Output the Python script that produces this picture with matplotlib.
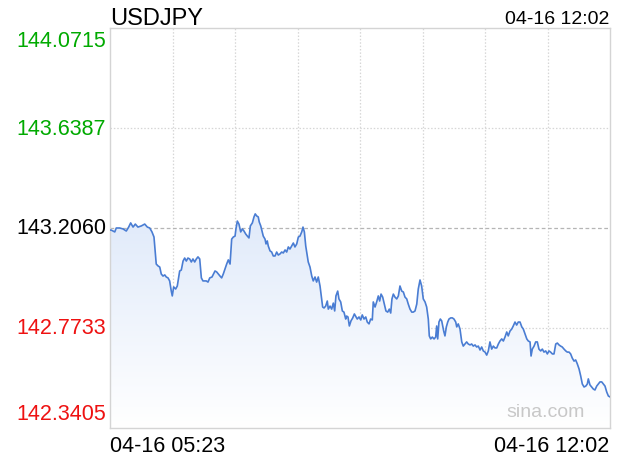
import matplotlib
matplotlib.use("Agg")
import matplotlib.pyplot as plt
import numpy as np

# chart data: minutes after 04-16 05:23 and USDJPY price
SYMBOL = "USDJPY"
START_LABEL = "04-16 05:23"
END_LABEL = "04-16 12:02"
TOTAL_MINUTES = 399
PREV_CLOSE = 143.2060
Y_TICKS = [144.0715, 143.6387, 143.2060, 142.7733, 142.3405]

minutes = [
    0.0, 1.0, 3.8, 5.0, 7.7, 10.4, 13.0, 14.9, 16.5, 18.4, 20.2, 22.3, 25.0, 27.7,
    29.8, 31.7, 33.5, 35.1, 36.1, 36.9, 38.3, 39.7, 40.9, 42.3, 43.7, 44.9, 46.3,
    47.6, 48.9, 49.7, 50.8, 52.4, 53.7, 55.6, 56.9, 58.3, 59.6, 60.9, 62.2, 63.6,
    64.9, 66.2, 67.6, 68.9, 70.2, 71.6, 72.9, 74.2, 76.8, 78.2, 79.6, 81.4,
    83.8, 85.1, 86.4, 87.8, 89.1, 90.4, 91.8, 93.1, 94.4, 95.8, 96.6, 97.1, 98.4,
    99.8, 100.5, 101.6, 102.9, 104.3, 105.6, 106.9, 108.3, 109.6, 110.9, 112.0,
    113.6, 114.9, 115.9, 117.1, 118.3, 119.1, 120.3, 121.3, 122.3, 123.7, 124.5,
    125.5, 126.3, 127.7, 129.0, 130.3, 131.7, 133.0, 134.3, 135.7, 137.0, 138.3,
    139.7, 141.0, 142.3, 143.6, 145.0, 146.3, 147.6, 149.0, 150.3, 151.6, 153.0,
    154.0, 155.1, 156.2, 157.2, 158.2, 159.6, 161.0, 162.2, 163.6, 164.9, 166.2,
    167.6, 168.9, 169.7, 170.8, 172.1, 173.4, 174.2, 175.6, 176.9, 178.2, 179.3,
    180.3, 181.7, 182.7, 184.1, 185.4, 186.7, 188.1, 188.8, 189.9, 191.0, 192.3,
    193.7, 195.0, 196.3, 197.3, 198.7, 200.1, 201.3, 202.7, 204.1, 205.3, 206.7,
    208.0, 209.3, 210.1, 211.5, 212.8, 214.1, 215.2, 216.3, 217.6, 218.9, 220.2,
    221.6, 222.9, 224.0, 225.0, 226.1, 227.4, 228.8, 230.1, 231.4, 232.8, 234.1,
    235.4, 236.8, 238.0, 239.4, 240.8, 242.0, 243.4, 244.8, 246.0, 247.4, 248.7,
    250.0, 251.4, 252.7, 254.0, 254.8, 255.9, 257.2, 258.6, 259.9, 260.7, 261.5,
    262.5, 263.6, 264.7, 265.5, 266.3, 267.3, 268.4, 269.5, 270.5, 271.9, 273.2,
    274.5, 275.9, 276.7, 277.9, 279.3, 280.7, 281.9, 283.3, 284.6, 285.9, 287.3,
    288.6, 289.9, 291.3, 292.6, 293.9, 295.3, 296.6, 297.9, 299.3, 300.6, 301.9,
    303.2, 304.6, 305.9, 307.2, 308.6, 309.9, 311.2, 312.6, 313.9, 315.2, 316.6,
    317.8, 319.2, 320.6, 321.8, 323.2, 324.5, 325.8, 327.2, 328.6, 329.8, 331.2,
    332.6, 333.8, 335.2, 336.0, 337.0, 338.4, 339.7, 341.0, 342.3, 343.7, 345.0,
    346.3, 347.7, 349.0, 350.3, 351.6, 353.0, 354.3, 355.7, 357.0, 358.3, 359.6,
    360.9, 362.3, 363.7, 364.9, 366.3, 367.6, 368.9, 370.3, 371.6, 372.9, 374.3,
    375.6, 376.9, 378.3, 379.7, 380.9, 381.7, 383.0, 384.4, 385.7, 387.0, 388.4,
    389.7, 391.0, 392.4, 393.7, 395.0, 396.4, 397.7, 399.0,
]

prices = [
    143.197, 143.197, 143.189, 143.206, 143.206, 143.202, 143.193, 143.210, 143.228,
    143.210, 143.223, 143.210, 143.215, 143.223, 143.210, 143.206, 143.189, 143.167,
    143.102, 143.050, 143.042, 143.037, 143.007, 142.998, 143.003, 142.994, 142.990,
    142.977, 142.933, 142.912, 142.951, 142.942, 142.955, 143.020, 143.024, 143.063,
    143.076, 143.063, 143.076, 143.072, 143.059, 143.072, 143.059, 143.072, 143.081,
    143.072, 142.990, 142.977, 142.977, 142.972, 142.990, 142.994,
    143.020, 143.016, 143.007, 142.998, 142.990, 143.007, 143.029, 143.050, 143.068,
    143.050, 143.115, 143.158, 143.167, 143.171, 143.202, 143.236, 143.223, 143.189,
    143.202, 143.193, 143.180, 143.171, 143.163, 143.215, 143.228, 143.254, 143.267,
    143.258, 143.254, 143.232, 143.215, 143.193, 143.171, 143.158, 143.137, 143.150,
    143.128, 143.107, 143.102, 143.085, 143.085, 143.102, 143.089, 143.094, 143.102,
    143.098, 143.111, 143.102, 143.124, 143.115, 143.128, 143.141, 143.124, 143.137,
    143.167, 143.171, 143.189, 143.210, 143.189, 143.128, 143.094, 143.059, 143.037,
    142.998, 142.977, 142.994, 142.972, 142.994, 142.955,
    142.899, 142.864, 142.860, 142.868, 142.890, 142.855, 142.868, 142.855, 142.881,
    142.847, 142.912, 142.933, 142.899, 142.886, 142.847, 142.842, 142.812, 142.825,
    142.821, 142.782, 142.804, 142.817, 142.834, 142.821, 142.812, 142.821, 142.808,
    142.830, 142.812, 142.821, 142.799, 142.791, 142.812, 142.808, 142.886, 142.864,
    142.886, 142.912, 142.890, 142.920, 142.907, 142.877, 142.847, 142.842, 142.855,
    142.838, 142.899, 142.920, 142.907, 142.899, 142.912, 142.955, 142.933, 142.929,
    142.907, 142.899, 142.877, 142.855, 142.842, 142.842, 142.847, 142.877, 142.942,
    142.981, 142.955, 142.899, 142.886, 142.864, 142.812, 142.739,
    142.726, 142.734, 142.726, 142.734, 142.782, 142.726, 142.799, 142.812, 142.804,
    142.782, 142.760, 142.739, 142.778, 142.799, 142.812, 142.817, 142.817, 142.812,
    142.799, 142.778, 142.791, 142.769, 142.713, 142.695, 142.704, 142.713, 142.704,
    142.700, 142.704, 142.695, 142.700, 142.691, 142.695, 142.678, 142.691, 142.674,
    142.669, 142.656, 142.674, 142.713, 142.682, 142.695, 142.687, 142.687, 142.704,
    142.717, 142.726, 142.717, 142.734, 142.756, 142.739, 142.760, 142.769, 142.782,
    142.799, 142.786, 142.799, 142.799, 142.778, 142.769, 142.747, 142.726, 142.717,
    142.713, 142.652, 142.682, 142.695,
    142.713, 142.713, 142.682, 142.674, 142.682, 142.669, 142.674, 142.661, 142.674,
    142.669, 142.661, 142.661, 142.704, 142.708, 142.700, 142.695, 142.691, 142.682,
    142.674, 142.669, 142.669, 142.661, 142.643, 142.630, 142.635, 142.618, 142.596,
    142.566, 142.531, 142.518, 142.522, 142.531, 142.553, 142.527, 142.518, 142.509,
    142.505, 142.522, 142.531, 142.540, 142.540, 142.531, 142.522, 142.496, 142.479,
    142.475,
]

FONT = "Liberation Sans"
LINE_COLOR = "#4a7dd3"
GRID_COLOR = "#d6d6d6"
UP_COLOR = "#00aa00"
DOWN_COLOR = "#ee1111"


def main():
    fig = plt.figure(figsize=(6.2, 4.6), dpi=100)
    ax = fig.add_axes([110 / 620, 31 / 460, 500 / 620, 400 / 460])

    y_min, y_max = Y_TICKS[-1], Y_TICKS[0]
    ax.set_xlim(0, TOTAL_MINUTES)
    ax.set_ylim(y_min, y_max)

    # gradient fill under the price line
    grad = np.linspace(0, 1, 256).reshape(-1, 1)
    top_rgb = np.array([224, 234, 250]) / 255
    bot_rgb = np.array([255, 255, 255]) / 255
    img = top_rgb * (1 - grad[..., None]) + bot_rgb * grad[..., None]
    img = img.reshape(256, 1, 3)
    top_price = max(prices)
    im = ax.imshow(img, extent=[0, TOTAL_MINUTES, y_min, top_price],
                   origin="upper", aspect="auto", zorder=1)
    poly = ax.fill_between(minutes, prices, y_min, color="none", lw=0)
    clip = poly.get_paths()[0]
    im.set_clip_path(clip, transform=ax.transData)

    # grid lines
    for i in range(1, 8):
        ax.axvline(TOTAL_MINUTES * i / 8, color=GRID_COLOR, lw=0.9,
                   ls=(0, (1.2, 1.5)), zorder=0.5)
    for v in Y_TICKS[1:-1]:
        if v == PREV_CLOSE:
            ax.axhline(v, color="#b5b5b5", lw=0.9, ls=(0, (3, 2)), zorder=0.5)
        else:
            ax.axhline(v, color=GRID_COLOR, lw=0.9, ls=(0, (1.2, 1.5)),
                       zorder=0.5)

    ax.plot(minutes, prices, color=LINE_COLOR, lw=1.2, zorder=3)

    ax.set_xticks([])
    ax.set_yticks([])
    for sp in ax.spines.values():
        sp.set_color("#d4d4d4")
        sp.set_linewidth(1.0)

    # y labels, coloured against previous close
    trans = ax.get_yaxis_transform()
    for v in Y_TICKS:
        if v > PREV_CLOSE:
            c = UP_COLOR
        elif v < PREV_CLOSE:
            c = DOWN_COLOR
        else:
            c = "black"
        va = "center"
        off = 0
        if v == y_max:
            va, off = "top", -2
        elif v == y_min:
            va, off = "bottom", 4
        ax.annotate(f"{v:.4f}", (0, v), xycoords=trans, xytext=(-4, off),
                    textcoords="offset pixels", ha="right", va=va,
                    color=c, fontsize=15.5, family=FONT)

    fig.text(110 / 620, 1 - 25 / 460, SYMBOL, fontsize=17, family=FONT,
             ha="left", va="baseline")
    fig.text(609 / 620, 1 - 24 / 460, END_LABEL, fontsize=14, family=FONT,
             ha="right", va="baseline")
    fig.text(110 / 620, 1 - 452 / 460, START_LABEL, fontsize=15.5, family=FONT,
             ha="left", va="baseline")
    fig.text(609 / 620, 1 - 452 / 460, END_LABEL, fontsize=15.5, family=FONT,
             ha="right", va="baseline")
    ax.text(0.95, 0.02, "sina.com", transform=ax.transAxes, fontsize=14,
            family=FONT, color="#c8c8c8", ha="right", va="bottom", zorder=4)

    fig.savefig("out.png", dpi=100)


if __name__ == "__main__":
    main()
